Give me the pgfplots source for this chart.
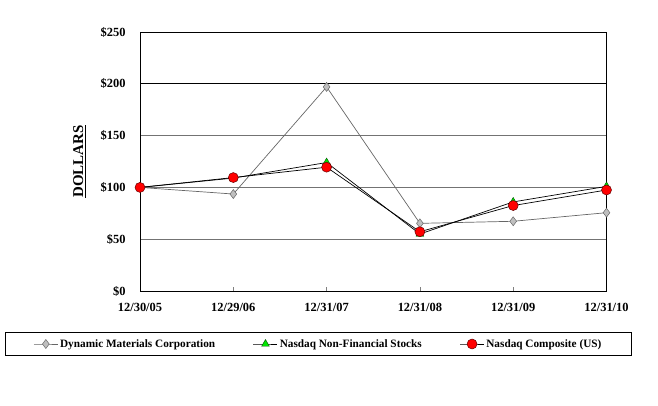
\documentclass[border=0pt]{standalone}
\usepackage{fontspec}
\setmainfont{Liberation Serif}
\usepackage{pgfplots}
\pgfplotsset{compat=1.18}
\begin{document}
\begin{tikzpicture}[x=1bp,y=1bp]
\path[use as bounding box] (0,0) rectangle (658,405);
\begin{axis}[
  at={(140bp,114bp)}, anchor=south west,
  scale only axis, width=466.5bp, height=259bp,
  xmin=0, xmax=5, ymin=0, ymax=250,
  xtick={0,1,2,3,4,5},
  xticklabels={12/30/05,12/29/06,12/31/07,12/31/08,12/31/09,12/31/10},
  ytick={0,50,100,150,200,250},
  yticklabels={\$0,\$50,\$100,\$150,\$200,\$250},
  /pgf/number format/assume math mode=true,
  tick label style={font=\fontsize{12.5}{14}\selectfont\bfseries},
  yticklabel style={xshift=-11bp},
  xticklabel style={yshift=-9bp},
  xtick pos=bottom, ytick pos=left,
  tick align=inside,
  major tick length=4bp,
  xtick style={draw=gray, line width=0.6pt},
  ytick style={draw=none},
  ymajorgrids, grid style={draw=black!55, line width=0.9pt},
  extra y ticks={200,250}, extra y tick labels={},
  extra y tick style={grid style={draw=black, line width=0.9pt}, tick style={draw=none}},
  axis line style={draw=black, line width=0.9pt},
  clip=false,
  ylabel={\underline{DOLLARS}},
  ylabel style={font=\fontsize{15}{17}\selectfont\bfseries, at={(axis description cs:-0.13,0.5)}, anchor=center},
  legend columns=3,
  legend style={at={(axis description cs:0.3826,-0.2046)}, anchor=center,
    draw=black, line width=0.5pt, font=\fontsize{11.3}{12}\selectfont\bfseries,
    inner xsep=28bp, inner ysep=5bp,
    /tikz/every even column/.append style={column sep=36bp}},
  legend image code/.code={\draw[mark repeat=2,mark phase=2,line width=0.6pt,#1] plot coordinates {(0bp,0bp)(12bp,0bp)(24bp,0bp)};},
]
\addplot[color=gray!80!black, line width=0.7pt, mark=diamond*, mark size=4.5bp,
  mark options={fill=gray!50, draw=gray!80!black, line width=0.5pt}]
  coordinates {(0,100) (1,93.6) (2,197) (3,65.3) (4,67.3) (5,75.6)};
\addlegendentry{Dynamic Materials Corporation}
\addplot[color=black, line width=0.7pt, mark=triangle*, mark size=4.5bp,
  mark options={fill=green!90!black, draw=black!70!green, line width=0.4pt}]
  coordinates {(0,100) (1,109) (2,124) (3,55) (4,86) (5,101)};
\addlegendentry{Nasdaq Non-Financial Stocks}
\addplot[color=black, line width=0.7pt, mark=*, mark size=5bp,
  mark options={fill=red, draw=black!60!red, line width=0.5pt}]
  coordinates {(0,100) (1,109.5) (2,119.5) (3,57.2) (4,82.5) (5,97.5)};
\addlegendentry{Nasdaq Composite (US)}
\end{axis}
\end{tikzpicture}
\end{document}
